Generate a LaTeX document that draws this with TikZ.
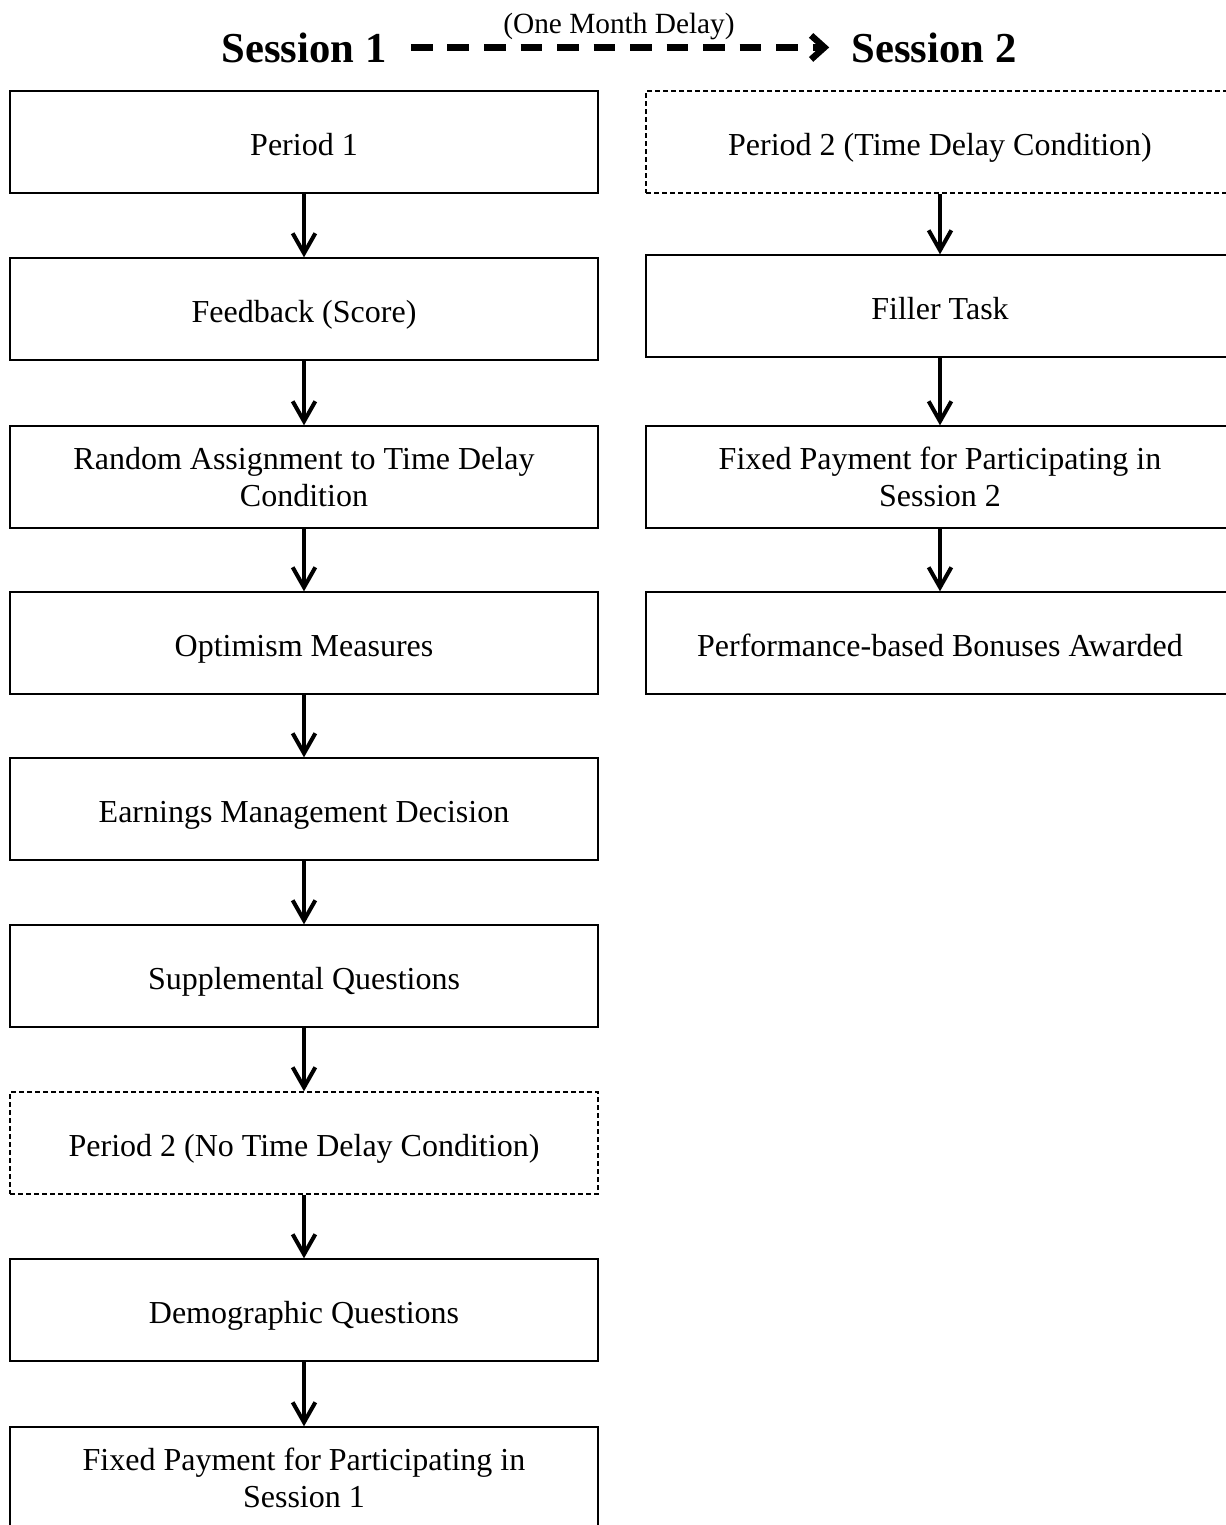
\documentclass[tikz,border=0pt]{standalone}
\usepackage{fontspec}
\setmainfont{Liberation Serif}
\usetikzlibrary{arrows.meta,positioning}

\begin{document}
\begin{tikzpicture}[x=0.375pt, y=-0.375pt,
    twobox/.style={draw, line width=0.5pt, minimum width=220.5pt, minimum height=38.25pt, inner sep=0pt, align=center, font=\fontsize{12}{13.9}\selectfont},
    stagebox/.style={twobox, text height=10.2pt, text depth=0pt},
    condbox/.style={stagebox, dash pattern=on 1.8pt off 1.2pt},
    flow/.style={-{Straight Barb[length=7.5pt,width=8.5pt]}, line width=1.5pt},
    sessionlabel/.style={inner sep=0pt, font=\fontsize{16}{19}\selectfont\bfseries}]
                    \useasboundingbox (0,0) rectangle (1226,1525);
                    % header
                    \node[sessionlabel, anchor=base] (s1) at (304,62) {Session 1};
                    \node[sessionlabel, anchor=base] (s2) at (934,62) {Session 2};
                    \draw[-{Straight Barb[length=5pt,width=9pt]}, line width=2.4pt, dash pattern=on 8.1pt off 5.6pt, shorten <=9pt, shorten >=8.2pt] (s1) -- (s2)
                        node[midway, above=1.5pt, inner sep=0pt, font=\fontsize{11}{13}\selectfont] (delay) {(One Month Delay)};
                    % session 1
                    \node[stagebox] (per1) at (304,142) {Period 1};
                    \node[stagebox] (feedback) at (304,309) {Feedback (Score)};
                    \node[twobox] (assign) at (304,477) {Random Assignment to Time Delay\\Condition};
                    \node[stagebox] (optimism) at (304,643) {Optimism Measures};
                    \node[stagebox] (earnings) at (304,809) {Earnings Management Decision};
                    \node[stagebox] (suppl) at (304,976) {Supplemental Questions};
                    \node[condbox] (per2now) at (304,1143) {Period 2 (No Time Delay Condition)};
                    \node[stagebox] (demog) at (304,1310) {Demographic Questions};
                    \node[twobox] (pay1) at (304,1478) {Fixed Payment for Participating in\\Session 1};
                    % session 2
                    \node[condbox] (per2late) at (940,142) {Period 2 (Time Delay Condition)};
                    \node[stagebox] (filler) at (940,306) {Filler Task};
                    \node[twobox] (pay2) at (940,477) {Fixed Payment for Participating in\\Session 2};
                    \node[stagebox] (bonus) at (940,643) {Performance-based Bonuses Awarded};
                    % flow arrows
                    \draw[flow] (per1) -- (feedback);
                    \draw[flow] (feedback) -- (assign);
                    \draw[flow] (assign) -- (optimism);
                    \draw[flow] (optimism) -- (earnings);
                    \draw[flow] (earnings) -- (suppl);
                    \draw[flow] (suppl) -- (per2now);
                    \draw[flow] (per2now) -- (demog);
                    \draw[flow] (demog) -- (pay1);
                    \draw[flow] (per2late) -- (filler);
                    \draw[flow] (filler) -- (pay2);
                    \draw[flow] (pay2) -- (bonus);
                \end{tikzpicture}
\end{document}
